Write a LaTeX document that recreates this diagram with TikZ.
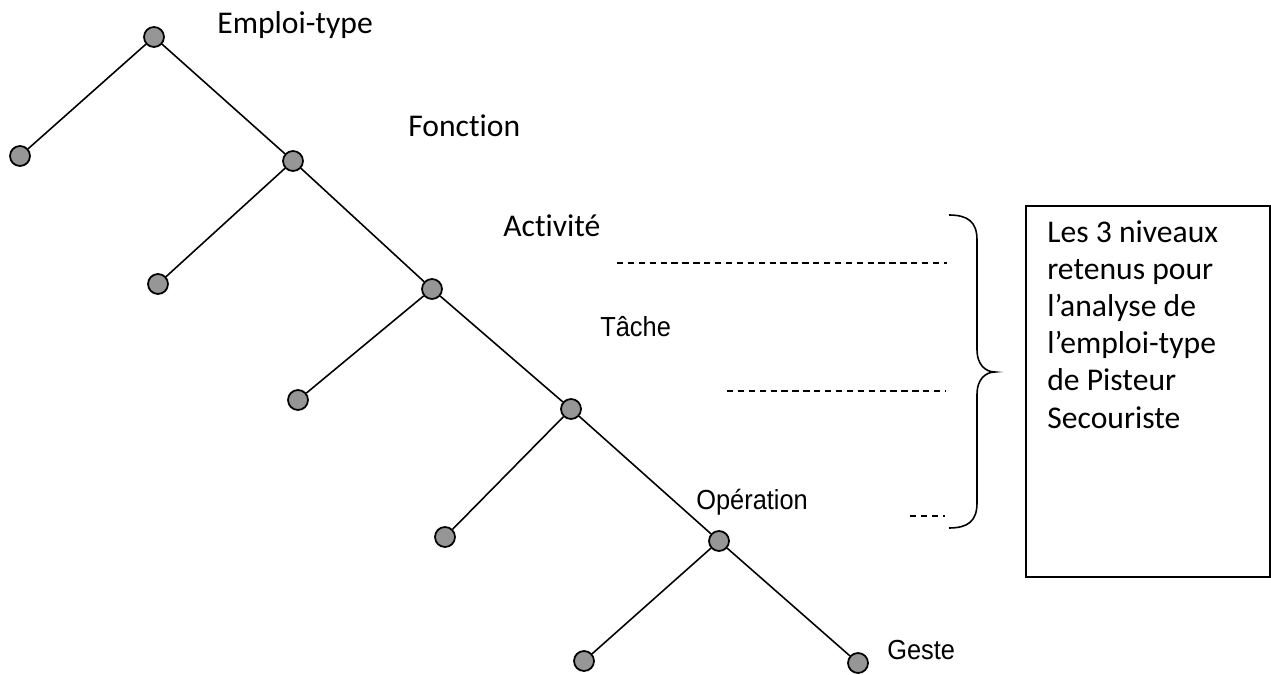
\documentclass[tikz,border=0pt]{standalone}
\usepackage{fontspec}
\setmainfont[Ligatures=NoCommon]{Carlito}
\newfontfamily\arialfont[FakeStretch=0.92]{Liberation Sans}
\usepackage{tikz}
\usetikzlibrary{positioning}
\definecolor{nodegray}{RGB}{150,150,150}
\tikzset{
  dot/.style={circle, draw=black, fill=nodegray, line width=1pt, minimum size=0.4cm, inner sep=0pt},
  edge/.style={line width=0.9pt},
  levelline/.style={line width=0.8pt, dash pattern=on 3.6pt off 2.6pt},
  calibri/.style={font=\fontsize{18}{22}\selectfont, inner sep=0pt},
  arial/.style={font=\arialfont\fontsize{15.7}{19}\selectfont, inner sep=0pt}
}

\begin{document}
\begin{tikzpicture}[x=0.02cm, y=-0.02cm]
\useasboundingbox (0,0) rectangle (1271,675);

% Tree nodes
\node[dot] (emploi) at (154,37) {};
\node[dot] (fonction) at (293,161) {};
\node[dot] (activite) at (432,289) {};
\node[dot] (tache) at (571,409) {};
\node[dot] (operation) at (719,541) {};
\node[dot] (geste) at (858,663) {};
\node[dot] (leafa) at (20,156) {};
\node[dot] (leafb) at (158,284) {};
\node[dot] (leafc) at (298,400) {};
\node[dot] (leafd) at (445,537) {};
\node[dot] (leafe) at (584,661) {};

% Branches
\draw[edge] (emploi) -- (leafa);
\draw[edge] (emploi) -- (fonction);
\draw[edge] (fonction) -- (leafb);
\draw[edge] (fonction) -- (activite);
\draw[edge] (activite) -- (leafc);
\draw[edge] (activite) -- (tache);
\draw[edge] (tache) -- (leafd);
\draw[edge] (tache) -- (operation);
\draw[edge] (operation) -- (leafe);
\draw[edge] (operation) -- (geste);

% Level labels
\node[calibri, anchor=base west] (lblemploi) at (217,34) {Emploi-type};
\node[calibri, anchor=base west] (lblfonction) at (408,137) {Fonction};
\node[calibri, anchor=base west] (lblactivite) at (503,237) {Activité};
\node[arial, anchor=base west] (lbltache) at (600,337) {Tâche};
\node[arial, anchor=base west] (lbloperation) at (696,509) {Opération};
\node[arial, anchor=base west] (lblgeste) at (887,659) {Geste};

% Level limits
\coordinate (dasha) at (617,263);
\coordinate (dashb) at (727,391);
\coordinate (dashc) at (910,516);
\draw[levelline] (dasha) -- (947,263);
\draw[levelline] (dashb) -- (945,391);
\draw[levelline] (dashc) -- (945,516);

% Brace
\draw[line width=0.9pt] (949,215) .. controls (968,215) and (977,222) .. (977,240)
  -- (977,350) .. controls (977,364) and (985,372) .. (995,372)
  .. controls (985,372) and (977,380) .. (977,394)
  -- (977,503) .. controls (977,521) and (968,528) .. (949,528);

% Note box
\draw[line width=0.9pt] (1026,206) rectangle (1270,577);
\node[calibri, anchor=base west] (note) at (1047,243) {Les 3 niveaux};
\node[calibri, anchor=base west] (notea) at (1047,280) {retenus pour};
\node[calibri, anchor=base west] (noteb) at (1047,317) {l’analyse de};
\node[calibri, anchor=base west] (notec) at (1047,354) {l’emploi-type};
\node[calibri, anchor=base west] (noted) at (1047,391) {de Pisteur};
\node[calibri, anchor=base west] (notee) at (1047,428) {Secouriste};
\end{tikzpicture}
\end{document}
